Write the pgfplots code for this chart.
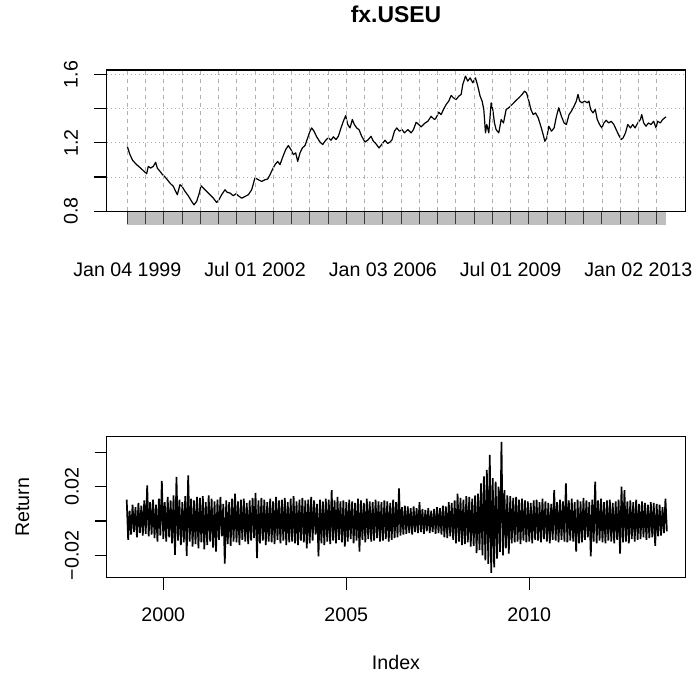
\documentclass[border=0pt]{standalone}
\usepackage{fontspec}
\setmainfont{Liberation Sans}
\usepackage{pgfplots}
\pgfplotsset{compat=1.18}
\usepackage{pgfplotstable}
\definecolor{gridc}{HTML}{B0B0B0}
\definecolor{barc}{HTML}{BEBEBE}
\definecolor{tickc}{HTML}{3A3A3A}
\newcommand{\lab}{\fontsize{19.7}{23}\selectfont}
\newcommand{\titl}{\fontsize{23}{28}\selectfont\bfseries}

\pgfplotstableread{
x y
1999.000 1.178
1999.073 1.131
1999.146 1.097
1999.256 1.072
1999.365 1.052
1999.457 1.033
1999.530 1.019
1999.575 1.062
1999.639 1.052
1999.712 1.062
1999.776 1.086
1999.822 1.052
1999.895 1.033
1999.968 1.013
2000.032 1.000
2000.096 0.984
2000.169 0.964
2000.260 0.945
2000.324 0.916
2000.370 0.896
2000.443 0.955
2000.498 0.945
2000.580 0.916
2000.671 0.890
2000.763 0.857
2000.826 0.837
2000.900 0.857
2000.973 0.906
2001.018 0.949
2001.082 0.935
2001.174 0.916
2001.265 0.896
2001.356 0.876
2001.447 0.851
2001.511 0.867
2001.584 0.896
2001.676 0.925
2001.740 0.910
2001.813 0.906
2001.904 0.890
2001.977 0.902
2002.041 0.890
2002.132 0.876
2002.224 0.886
2002.315 0.896
2002.406 0.925
2002.498 0.995
2002.589 0.984
2002.680 0.974
2002.772 0.984
2002.845 0.988
2002.909 1.013
2002.973 1.043
2003.046 1.072
2003.119 1.091
2003.183 1.072
2003.247 1.111
2003.338 1.160
2003.411 1.184
2003.484 1.160
2003.548 1.131
2003.612 1.141
2003.667 1.091
2003.731 1.141
2003.795 1.170
2003.868 1.184
2003.941 1.229
2004.005 1.268
2004.050 1.287
2004.114 1.268
2004.187 1.235
2004.279 1.204
2004.352 1.190
2004.434 1.215
2004.507 1.229
2004.580 1.215
2004.644 1.235
2004.717 1.219
2004.781 1.238
2004.854 1.287
2004.918 1.326
2004.982 1.359
2005.037 1.307
2005.100 1.287
2005.164 1.336
2005.219 1.307
2005.283 1.287
2005.347 1.277
2005.420 1.238
2005.511 1.204
2005.603 1.219
2005.676 1.238
2005.740 1.209
2005.804 1.196
2005.895 1.170
2005.968 1.190
2006.059 1.215
2006.132 1.196
2006.196 1.204
2006.253 1.219
2006.317 1.268
2006.381 1.287
2006.454 1.268
2006.527 1.277
2006.591 1.258
2006.683 1.277
2006.774 1.258
2006.838 1.277
2006.911 1.320
2006.984 1.307
2007.048 1.293
2007.139 1.313
2007.231 1.326
2007.322 1.355
2007.413 1.336
2007.459 1.346
2007.532 1.379
2007.596 1.365
2007.660 1.395
2007.733 1.424
2007.806 1.444
2007.870 1.477
2007.934 1.463
2008.007 1.453
2008.080 1.473
2008.144 1.483
2008.189 1.541
2008.263 1.590
2008.326 1.561
2008.390 1.580
2008.463 1.551
2008.537 1.580
2008.600 1.532
2008.664 1.473
2008.719 1.444
2008.765 1.395
2008.811 1.258
2008.847 1.307
2008.902 1.258
2008.966 1.434
2009.011 1.395
2009.057 1.316
2009.103 1.277
2009.176 1.258
2009.240 1.336
2009.304 1.316
2009.377 1.395
2009.450 1.405
2009.541 1.424
2009.632 1.444
2009.724 1.463
2009.815 1.483
2009.879 1.502
2009.936 1.492
2010.000 1.444
2010.055 1.395
2010.118 1.365
2010.182 1.375
2010.255 1.346
2010.327 1.297
2010.391 1.248
2010.436 1.209
2010.491 1.229
2010.545 1.297
2010.618 1.268
2010.691 1.287
2010.755 1.355
2010.818 1.405
2010.891 1.355
2010.964 1.316
2011.027 1.307
2011.100 1.365
2011.164 1.385
2011.236 1.414
2011.300 1.444
2011.345 1.483
2011.391 1.444
2011.455 1.434
2011.527 1.444
2011.600 1.434
2011.645 1.444
2011.691 1.395
2011.755 1.375
2011.818 1.395
2011.873 1.336
2011.936 1.307
2012.000 1.287
2012.055 1.316
2012.118 1.332
2012.182 1.316
2012.255 1.326
2012.327 1.307
2012.391 1.277
2012.455 1.248
2012.527 1.219
2012.582 1.229
2012.645 1.258
2012.709 1.307
2012.782 1.287
2012.845 1.307
2012.909 1.287
2012.982 1.316
2013.055 1.336
2013.091 1.365
2013.145 1.316
2013.209 1.297
2013.273 1.316
2013.345 1.307
2013.418 1.326
2013.482 1.287
2013.527 1.326
2013.600 1.316
2013.664 1.336
2013.755 1.352
}\fxlevel

\pgfplotstableread[row sep=\\]{y\\
0.0125\\ -0.0110\\ 0.0060\\ -0.0080\\ 0.0095\\ -0.0065\\ 0.0080\\ -0.0095\\ 0.0105\\ -0.0070\\ 0.0090\\ -0.0085\\ 0.0120\\ -0.0075\\ 0.0208\\ -0.0090\\ 0.0110\\ -0.0080\\ 0.0125\\ -0.0100\\ 0.0095\\ -0.0120\\ 0.0130\\ -0.0085\\ 0.0234\\
-0.0105\\ 0.0110\\ -0.0120\\ 0.0140\\ -0.0095\\ 0.0120\\ -0.0130\\ 0.0150\\ -0.0197\\ 0.0257\\ -0.0115\\ 0.0125\\ -0.0140\\ 0.0110\\ -0.0125\\ 0.0145\\ -0.0203\\ 0.0266\\ -0.0120\\ 0.0130\\ -0.0150\\ 0.0120\\ -0.0135\\ 0.0140\\
-0.0160\\ 0.0135\\ -0.0125\\ 0.0145\\ -0.0165\\ 0.0110\\ -0.0140\\ 0.0150\\ -0.0120\\ 0.0130\\ -0.0155\\ 0.0115\\ -0.0178\\ 0.0125\\ -0.0110\\ 0.0140\\ -0.0090\\ 0.0100\\ -0.0249\\ 0.0120\\ -0.0135\\ 0.0110\\ -0.0145\\ 0.0130\\ -0.0120\\ 0.0160\\
-0.0125\\ 0.0115\\ -0.0140\\ 0.0125\\ -0.0110\\ 0.0130\\ -0.0120\\ 0.0105\\ -0.0135\\ 0.0120\\ -0.0115\\ 0.0135\\ -0.0100\\ 0.0164\\ -0.0216\\ 0.0120\\ -0.0130\\ 0.0135\\ -0.0115\\ 0.0125\\ -0.0140\\ 0.0110\\ -0.0120\\ 0.0130\\
-0.0125\\ 0.0115\\ -0.0135\\ 0.0140\\ -0.0110\\ 0.0120\\ -0.0130\\ 0.0125\\ -0.0115\\ 0.0135\\ -0.0140\\ 0.0110\\ -0.0125\\ 0.0130\\ -0.0120\\ 0.0145\\ -0.0130\\ 0.0115\\ -0.0140\\ 0.0125\\ -0.0115\\ 0.0135\\ -0.0125\\ 0.0120\\ -0.0160\\
0.0125\\ -0.0130\\ 0.0140\\ -0.0115\\ 0.0120\\ -0.0080\\ 0.0100\\ -0.0207\\ 0.0125\\ -0.0130\\ 0.0115\\ -0.0140\\ 0.0130\\ -0.0120\\ 0.0125\\ -0.0135\\ 0.0180\\ -0.0115\\ 0.0120\\ -0.0130\\ 0.0140\\ -0.0110\\ 0.0115\\ -0.0125\\ 0.0120\\ -0.0150\\
0.0110\\ -0.0120\\ 0.0125\\ -0.0105\\ 0.0115\\ -0.0130\\ 0.0105\\ -0.0115\\ 0.0130\\ -0.0178\\ 0.0120\\ -0.0110\\ 0.0105\\ -0.0125\\ 0.0130\\ -0.0105\\ 0.0115\\ -0.0120\\ 0.0110\\ -0.0115\\ 0.0125\\ -0.0100\\ 0.0115\\ -0.0120\\
0.0110\\ -0.0115\\ 0.0120\\ -0.0105\\ 0.0115\\ -0.0120\\ 0.0105\\ -0.0110\\ 0.0125\\ -0.0100\\ 0.0110\\ -0.0095\\ 0.0190\\ -0.0085\\ 0.0080\\ -0.0080\\ 0.0090\\ -0.0075\\ 0.0085\\ -0.0070\\ 0.0075\\ -0.0080\\ 0.0085\\ -0.0065\\ 0.0075\\
-0.0070\\ 0.0110\\ -0.0065\\ 0.0070\\ -0.0075\\ 0.0065\\ -0.0060\\ 0.0075\\ -0.0070\\ 0.0060\\ -0.0065\\ 0.0070\\ -0.0075\\ 0.0080\\ -0.0070\\ 0.0075\\ -0.0080\\ 0.0090\\ -0.0095\\ 0.0085\\ -0.0100\\ 0.0110\\ -0.0090\\ 0.0105\\ -0.0110\\
0.0120\\ -0.0130\\ 0.0160\\ -0.0120\\ 0.0135\\ -0.0140\\ 0.0125\\ -0.0135\\ 0.0145\\ -0.0125\\ 0.0140\\ -0.0150\\ 0.0130\\ -0.0145\\ 0.0150\\ -0.0187\\ 0.0160\\ -0.0170\\ 0.0220\\ -0.0200\\ 0.0260\\ -0.0230\\ 0.0298\\ -0.0250\\ 0.0386\\
-0.0303\\ 0.0250\\ -0.0270\\ 0.0230\\ -0.0220\\ 0.0200\\ -0.0180\\ 0.0462\\ -0.0200\\ 0.0180\\ -0.0160\\ 0.0150\\ -0.0190\\ 0.0145\\ -0.0130\\ 0.0135\\ -0.0125\\ 0.0140\\ -0.0120\\ 0.0125\\ -0.0135\\ 0.0130\\ -0.0115\\ 0.0120\\ -0.0125\\
0.0115\\ -0.0120\\ 0.0105\\ -0.0130\\ 0.0120\\ -0.0110\\ 0.0125\\ -0.0115\\ 0.0110\\ -0.0125\\ 0.0130\\ -0.0105\\ 0.0115\\ -0.0120\\ 0.0105\\ -0.0130\\ 0.0100\\ -0.0110\\ 0.0180\\ -0.0115\\ 0.0110\\ -0.0125\\ 0.0125\\ -0.0110\\ 0.0115\\ -0.0120\\
0.0220\\ -0.0125\\ 0.0120\\ -0.0115\\ 0.0130\\ -0.0120\\ 0.0110\\ -0.0178\\ 0.0125\\ -0.0130\\ 0.0115\\ -0.0125\\ 0.0135\\ -0.0110\\ 0.0120\\ -0.0095\\ 0.0110\\ -0.0207\\ 0.0125\\ -0.0120\\ 0.0230\\ -0.0130\\ 0.0120\\ -0.0115\\ 0.0130\\
-0.0125\\ 0.0110\\ -0.0130\\ 0.0120\\ -0.0115\\ 0.0125\\ -0.0120\\ 0.0105\\ -0.0130\\ 0.0115\\ -0.0110\\ 0.0125\\ -0.0190\\ 0.0200\\ -0.0125\\ 0.0180\\ -0.0120\\ 0.0115\\ -0.0130\\ 0.0120\\ -0.0105\\ 0.0110\\ -0.0120\\ 0.0125\\
-0.0110\\ 0.0100\\ -0.0105\\ 0.0115\\ -0.0095\\ 0.0105\\ -0.0110\\ 0.0095\\ -0.0100\\ 0.0110\\ -0.0095\\ 0.0105\\ -0.0145\\ 0.0100\\ -0.0090\\ 0.0095\\ -0.0085\\ 0.0080\\ -0.0070\\ 0.0130\\ -0.0060\\
}\fxret

\begin{document}
\begin{tikzpicture}
\path[use as bounding box] (0bp,0bp) rectangle (697bp,674bp);
\begin{axis}[
  at={(106.5bp,462.5bp)}, anchor=south west,
  scale only axis, width=579bp, height=141.5bp,
  xmin=1998.43, xmax=2014.29, ymin=0.798, ymax=1.626,
  clip=false, axis on top,
  axis line style={line width=1.1bp},
  tick align=outside, major tick length=13bp,
  xtick pos=bottom, ytick pos=left,
  xtick={1999,1999.5,2000,2000.5,2001,2001.5,2002,2002.5,2003,2003.5,2004,2004.5,2005,2005.5,2006,2006.5,2007,2007.5,2008,2008.5,2009,2009.5,2010,2010.5,2011,2011.5,2012,2012.5,2013,2013.5},
  xticklabels={Jan 04 1999,,,,,,,Jul 01 2002,,,,,,,Jan 03 2006,,,,,,,Jul 01 2009,,,,,,,Jan 02 2013,},
  xtick style={draw=tickc, line width=1.1bp},
  ytick={0.8,1.0,1.2,1.4,1.6},
  yticklabels={0.8,,1.2,,1.6},
  ytick style={draw=black, line width=1.1bp},
  xmajorgrids,
  major grid style={draw=gridc, dash pattern=on 4bp off 4bp, line width=0.8bp},
  xticklabel style={font=\lab, inner sep=0pt, anchor=base, yshift=-52.5bp},
  yticklabel style={font=\lab, inner sep=0pt, xshift=-15.5bp, rotate=90, anchor=south},
  title={fx.USEU},
  title style={font=\titl, at={(axis description cs:0.5,1)}, anchor=base, yshift=42bp},
]
\fill[barc] (axis cs:1999,0.719) rectangle (axis cs:2013.755,0.798);
\addplot[gridc, line width=0.8bp, dash pattern=on 1bp off 3bp, forget plot] coordinates {(1998.43,1.0) (2014.29,1.0)};
\addplot[gridc, line width=0.8bp, dash pattern=on 1bp off 3bp, forget plot] coordinates {(1998.43,1.2) (2014.29,1.2)};
\addplot[gridc, line width=0.8bp, dash pattern=on 1bp off 3bp, forget plot] coordinates {(1998.43,1.4) (2014.29,1.4)};
\addplot[gridc, line width=0.8bp, dash pattern=on 1bp off 3bp, forget plot] coordinates {(1998.43,1.6) (2014.29,1.6)};
\addplot[black, line width=1.2bp, line join=round] table[x=x, y=y] {\fxlevel};
\end{axis}

\begin{axis}[
  at={(106.5bp,96.3bp)}, anchor=south west,
  scale only axis, width=579bp, height=141bp,
  xmin=1998.448, xmax=2014.268, ymin=-0.0331, ymax=0.0492,
  scaled y ticks=false,
  axis line style={line width=1.1bp},
  tick align=outside, major tick length=12bp,
  xtick pos=bottom, ytick pos=left,
  tick style={draw=black, line width=1.1bp},
  xtick={2000,2005,2010}, xticklabels={2000,2005,2010},
  ytick={-0.02,0,0.02,0.04}, yticklabels={−0.02,,0.02,},
  xticklabel style={font=\lab, inner sep=0pt, anchor=north, yshift=-18.3bp},
  yticklabel style={font=\lab, inner sep=0pt, xshift=-15.5bp, rotate=90, anchor=south},
  xlabel={Index}, ylabel={Return},
  xlabel style={font=\lab, at={(axis description cs:0.5,0)}, anchor=base, yshift=-91.3bp},
  ylabel style={font=\lab, at={(axis description cs:-0.1338,0.5)}, anchor=base},
]
\addplot[black, line width=1.7bp, line join=bevel] table[x expr={1999+0.04*\coordindex}, y=y] {\fxret};
\end{axis}
\end{tikzpicture}
\end{document}
